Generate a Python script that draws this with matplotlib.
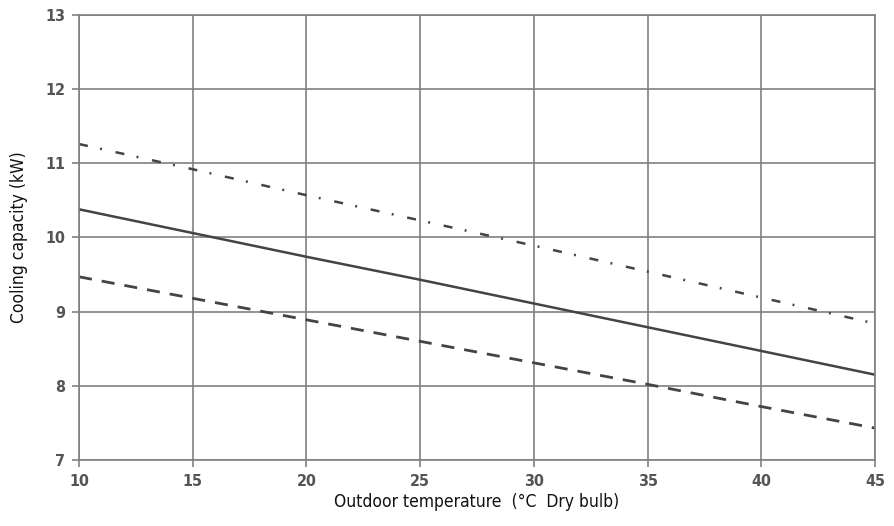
import matplotlib
matplotlib.use("Agg")
import matplotlib.pyplot as plt

# Cooling capacity vs outdoor temperature
temps = [10, 15, 20, 25, 30, 35, 40, 45]
cap_high = [11.26, 10.92, 10.57, 10.23, 9.89, 9.54, 9.19, 8.84]
cap_mid = [10.38, 10.06, 9.74, 9.43, 9.11, 8.79, 8.47, 8.15]
cap_low = [9.47, 9.18, 8.89, 8.60, 8.31, 8.02, 7.72, 7.43]

xticks = [10, 15, 20, 25, 30, 35, 40, 45]
yticks = [7, 8, 9, 10, 11, 12, 13]

plt.rcParams['font.family'] = ['DejaVu Sans']
plt.rcParams['font.stretch'] = 'condensed'
plt.rcParams['lines.scale_dashes'] = False

fig = plt.figure(figsize=(8.95, 5.26), dpi=100)
ax = fig.add_axes([0.0883, 0.1255, 0.8894, 0.846])

grid_col = '#808080'
line_col = '#444444'

ax.plot(temps, cap_high, color=line_col, lw=1.8, dashes=(6.5, 9, 1.4, 10))
ax.plot(temps, cap_mid, color=line_col, lw=1.8)
ax.plot(temps, cap_low, color=line_col, lw=2.0, dashes=(9.4, 7.2))

ax.set_xlim(10, 45)
ax.set_ylim(7, 13)
ax.set_xticks(xticks)
ax.set_yticks(yticks)
ax.grid(True, color=grid_col, lw=1.2)
for s in ax.spines.values():
    s.set_color(grid_col)
    s.set_linewidth(1.2)
ax.tick_params(direction='out', length=5, width=1.2, color=grid_col,
               labelsize=11.5, labelcolor='#555555', pad=5)
for lbl in ax.get_xticklabels() + ax.get_yticklabels():
    lbl.set_fontweight('bold')

ax.set_xlabel('Outdoor temperature  (°C  Dry bulb)', fontsize=12.5, color='#111111', labelpad=3)
ax.set_ylabel('Cooling capacity (kW)', fontsize=12.5, color='#111111', labelpad=12)

fig.savefig('out.png', dpi=100)
